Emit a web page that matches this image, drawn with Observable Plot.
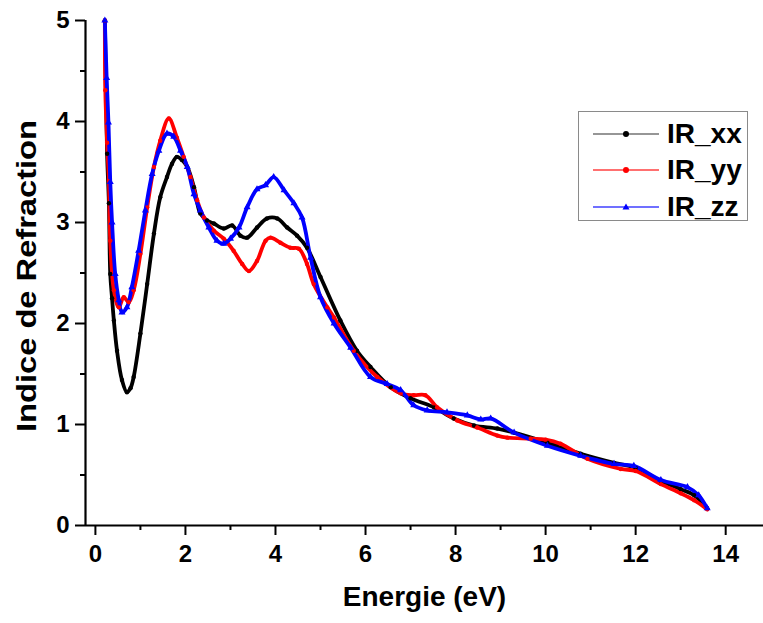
<!DOCTYPE html>
<html>
<head>
<meta charset="utf-8">
<script src="https://cdn.jsdelivr.net/npm/d3@7"></script>
<script src="https://cdn.jsdelivr.net/npm/@observablehq/plot@0.6"></script>
<style>
  html, body { margin: 0; padding: 0; background: #fff; }
  #wrap { position: relative; width: 763px; height: 623px; font-family: "Liberation Sans", Arial, sans-serif; }
  #legend { position: absolute; left: 578px; top: 111px; width: 170px; height: 110px; border: 1.5px solid #8a8a8a; box-sizing: border-box; background: #fff; }
  .lg-row { position: absolute; left: 0; height: 30px; display: flex; align-items: center; }
  .lg-row span { font-weight: bold; font-size: 28px; color: #000; margin-left: 8px; }
</style>
</head>
<body>
<div id="wrap"></div>
<script>
// ---- data ----
const seriesNames = ["IR_xx", "IR_yy", "IR_zz"];
const seriesColors = ["#000000", "#ff0000", "#0000ff"];

const energyXX = [0.21, 0.26, 0.30, 0.33, 0.37, 0.41, 0.48, 0.59, 0.70, 0.78, 0.85, 1.00, 1.15, 1.30, 1.44, 1.59, 1.70, 1.81, 1.92, 2.04, 2.19, 2.33, 2.48, 2.63, 2.85, 3.04, 3.22, 3.37, 3.59, 3.81, 4.04, 4.26, 4.48, 4.70, 5.00, 5.44, 5.81, 6.11, 6.56, 7.00, 7.52, 7.96, 8.41, 8.93, 9.30, 10.04, 10.78, 11.52, 12.00, 12.56, 13.00, 13.30, 13.59];
const indexXX  = [5.00, 3.68, 3.19, 2.49, 2.25, 2.03, 1.73, 1.44, 1.32, 1.36, 1.47, 1.90, 2.39, 2.89, 3.25, 3.45, 3.58, 3.65, 3.62, 3.55, 3.35, 3.09, 3.02, 2.99, 2.94, 2.97, 2.87, 2.85, 2.95, 3.04, 3.04, 2.95, 2.87, 2.75, 2.46, 2.03, 1.73, 1.57, 1.37, 1.26, 1.17, 1.06, 0.99, 0.96, 0.92, 0.82, 0.71, 0.62, 0.57, 0.44, 0.36, 0.30, 0.17];

const energyYY = [0.21, 0.22, 0.26, 0.30, 0.33, 0.41, 0.52, 0.63, 0.74, 0.85, 1.00, 1.15, 1.30, 1.44, 1.63, 1.81, 1.96, 2.11, 2.26, 2.41, 2.63, 2.85, 3.07, 3.26, 3.41, 3.59, 3.78, 3.89, 4.11, 4.33, 4.52, 4.70, 4.85, 5.15, 5.30, 5.74, 6.26, 6.78, 7.07, 7.33, 7.59, 8.04, 8.48, 8.93, 9.15, 9.67, 10.00, 10.33, 10.93, 11.67, 12.00, 12.56, 13.00, 13.30, 13.59];
const indexYY  = [5.00, 4.31, 3.79, 3.41, 2.82, 2.33, 2.16, 2.26, 2.21, 2.33, 2.69, 3.15, 3.55, 3.81, 4.03, 3.84, 3.65, 3.45, 3.22, 3.05, 2.92, 2.84, 2.72, 2.59, 2.52, 2.62, 2.82, 2.85, 2.80, 2.75, 2.74, 2.59, 2.39, 2.16, 2.06, 1.73, 1.47, 1.31, 1.29, 1.29, 1.17, 1.04, 0.97, 0.89, 0.87, 0.86, 0.85, 0.81, 0.66, 0.56, 0.54, 0.41, 0.32, 0.25, 0.16];

const energyZZ = [0.21, 0.25, 0.29, 0.33, 0.37, 0.44, 0.52, 0.59, 0.70, 0.81, 0.96, 1.11, 1.26, 1.41, 1.59, 1.74, 1.89, 2.04, 2.19, 2.33, 2.52, 2.70, 2.85, 3.00, 3.19, 3.37, 3.59, 3.78, 3.96, 4.19, 4.41, 4.59, 4.78, 5.00, 5.30, 5.67, 6.11, 6.48, 6.78, 7.07, 7.37, 7.81, 8.26, 8.56, 8.78, 9.30, 10.04, 10.78, 11.52, 11.96, 12.56, 13.15, 13.40, 13.59];
const indexZZ  = [5.00, 4.43, 3.99, 3.40, 3.00, 2.49, 2.23, 2.11, 2.16, 2.36, 2.72, 3.12, 3.48, 3.71, 3.88, 3.85, 3.71, 3.55, 3.28, 3.12, 2.95, 2.82, 2.79, 2.84, 2.95, 3.15, 3.33, 3.37, 3.45, 3.32, 3.19, 3.05, 2.65, 2.26, 2.00, 1.76, 1.47, 1.40, 1.34, 1.19, 1.14, 1.12, 1.09, 1.05, 1.06, 0.92, 0.79, 0.69, 0.61, 0.59, 0.45, 0.38, 0.30, 0.17];

const xMajorTicks = [0, 2, 4, 6, 8, 10, 12, 14];
const xMinorTicks = [1, 3, 5, 7, 9, 11, 13];
const yMajorTicks = [0, 1, 2, 3, 4, 5];
const yMinorTicks = [0.5, 1.5, 2.5, 3.5, 4.5];
const xDomain = [-0.22, 14.84];
const yDomain = [0, 5];
const xLabel = "Energie (eV)";
const yLabel = "Indice de Refraction";

// ---- build table ----
const energies = [energyXX, energyYY, energyZZ];
const indices = [indexXX, indexYY, indexZZ];
const rows = [];
seriesNames.forEach((name, s) => {
  energies[s].forEach((e, i) => rows.push({series: name, energy: e, n: indices[s][i]}));
});

const fontFamily = "'Liberation Sans', Arial, sans-serif";
const fmt = d3.format("d");

const chart = Plot.plot({
  width: 763,
  height: 623,
  marginLeft: 85,
  marginTop: 20,
  marginBottom: 98,
  marginRight: 0,
  style: {fontFamily, fontWeight: "bold", fontSize: "24px", color: "#000", background: "#fff", overflow: "visible"},
  x: {domain: xDomain},
  y: {domain: yDomain},
  color: {domain: seriesNames, range: seriesColors},
  marks: [
    Plot.line(rows, {x: "energy", y: "n", z: "series", stroke: "series", strokeWidth: 3.8, curve: "catmull-rom"}),
    Plot.dot(rows.filter(d => d.series !== "IR_zz"), {x: "energy", y: "n", fill: "series", r: 2.2}),
    Plot.dot(rows.filter(d => d.series === "IR_zz"), {x: "energy", y: "n", fill: "series", r: 2.6, symbol: "triangle"}),
    Plot.axisX({ticks: xMajorTicks, tickFormat: fmt, tickSize: 10, tickPadding: 9, strokeWidth: 2, label: null, fontSize: 24}),
    Plot.axisX({ticks: xMinorTicks, tickSize: 5, strokeWidth: 2, text: null, label: null}),
    Plot.axisY({ticks: yMajorTicks, tickFormat: fmt, tickSize: 10, tickPadding: 6, strokeWidth: 2, label: null, fontSize: 24}),
    Plot.axisY({ticks: yMinorTicks, tickSize: 5, strokeWidth: 2, text: null, label: null}),
    Plot.ruleY([yDomain[0]], {strokeWidth: 2.2, stroke: "#000"}),
    Plot.ruleX([xDomain[0]], {strokeWidth: 2.2, stroke: "#000"}),
    Plot.text([xLabel], {text: d => d, frameAnchor: "bottom", dy: 80, fontSize: 28, fontWeight: "bold", fill: "#000"}),
    Plot.text([yLabel], {text: d => d, frameAnchor: "left", textAnchor: "middle", dx: -58, dy: 3, rotate: -90, fontSize: 28, fontWeight: "bold", fill: "#000"})
  ]
});

d3.select(chart).selectAll("text")
  .filter(function() { return this.textContent === yLabel; })
  .attr("textLength", 312)
  .attr("lengthAdjust", "spacingAndGlyphs");

const wrap = document.getElementById("wrap");
wrap.appendChild(chart);

// ---- legend ----
const legend = document.createElement("div");
legend.id = "legend";
const rowTops = [7, 43, 80];
seriesNames.forEach((name, i) => {
  const row = document.createElement("div");
  row.className = "lg-row";
  row.style.top = rowTops[i] + "px";
  const svgNS = "http://www.w3.org/2000/svg";
  const s = document.createElementNS(svgNS, "svg");
  s.setAttribute("width", "80");
  s.setAttribute("height", "30");
  const ln = document.createElementNS(svgNS, "line");
  ln.setAttribute("x1", "14"); ln.setAttribute("x2", "80");
  ln.setAttribute("y1", "15"); ln.setAttribute("y2", "15");
  ln.setAttribute("stroke", seriesColors[i]);
  ln.setAttribute("stroke-width", "1.3");
  ln.setAttribute("stroke-opacity", i === 0 ? "0.55" : "0.75");
  s.appendChild(ln);
  if (i === 2) {
    const t = document.createElementNS(svgNS, "path");
    t.setAttribute("d", "M47,11.5 L50.5,17.5 L43.5,17.5 Z");
    t.setAttribute("fill", seriesColors[i]);
    s.appendChild(t);
  } else {
    const c = document.createElementNS(svgNS, "circle");
    c.setAttribute("cx", "47"); c.setAttribute("cy", "15"); c.setAttribute("r", "3");
    c.setAttribute("fill", seriesColors[i]);
    s.appendChild(c);
  }
  row.appendChild(s);
  const label = document.createElement("span");
  label.textContent = name;
  row.appendChild(label);
  legend.appendChild(row);
});
wrap.appendChild(legend);
</script>
</body>
</html>
